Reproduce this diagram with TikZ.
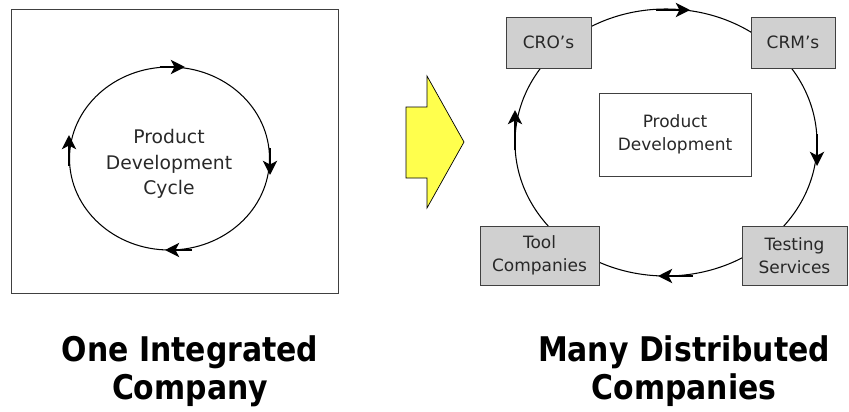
\documentclass[tikz,border=0pt]{standalone}
\usepackage{fontspec}
\setmainfont{DejaVu Sans}
\newfontfamily\titlefont[FakeStretch=0.88]{DejaVu Sans}
\usetikzlibrary{arrows.meta,positioning}
\definecolor{boxgray}{RGB}{208,208,208}
\definecolor{framegray}{RGB}{64,64,64}
\definecolor{labelgray}{RGB}{40,40,40}
\definecolor{shiftyellow}{RGB}{255,255,77}

\begin{document}
\begin{tikzpicture}[x=0.03cm, y=-0.03cm,
        flow/.style={line width=2.5pt, -{Stealth[length=12pt, width=12pt, inset=3pt]}},
        partner/.style={rectangle, draw=framegray, fill=boxgray, line width=0.8pt, align=center, inner sep=0pt,
            font=\fontsize{14.5}{19.5}\selectfont, text=labelgray},
        core/.style={rectangle, draw=framegray, fill=white, line width=0.8pt, align=center, inner sep=0pt,
            font=\fontsize{14.5}{19.5}\selectfont, text=labelgray},
        caption/.style={align=center, font=\titlefont\bfseries\fontsize{29}{32.3}\selectfont}
    ]
        \useasboundingbox (0,0) rectangle (849,411);

        % Left panel: one company
        \node[rectangle, draw=framegray, line width=0.8pt, minimum width=9.81cm, minimum height=8.52cm] (onebox) at (174.5,151) {};
        \draw[line width=0.9pt] (169.5,158.5) ellipse [x radius=100, y radius=91.5];
        \draw[flow] (160,67) -- (185,67);
        \draw[flow] (270,148) -- (270,175);
        \draw[flow] (192,250) -- (165,250);
        \draw[flow] (69,166) -- (69,135);
        \node[align=center, text=labelgray, font=\fontsize{16}{22}\selectfont] (cycle) at (169,164) {Product\\Development\\Cycle};

        % Shift arrow
        \filldraw[fill=shiftyellow, draw=black, line width=0.6pt]
            (406,107) -- (427,107) -- (427,76) -- (464,142) -- (427,208) -- (427,178) -- (406,178) -- cycle;

        % Right panel: many companies
        \draw[line width=0.9pt] (666,142.5) ellipse [x radius=151, y radius=133.5];
        \draw[flow] (656,10) -- (690,10);
        \draw[flow] (817,134) -- (817,166);
        \draw[flow] (693,276) -- (658,276);
        \draw[flow] (515,150) -- (515,110);

        \node[partner, minimum width=2.55cm, minimum height=1.53cm] (cro) at (548.5,42.5) {CRO’s};
        \node[partner, minimum width=2.52cm, minimum height=1.53cm] (crm) at (793,42.5) {CRM’s};
        \node[partner, minimum width=3.57cm, minimum height=1.77cm] (tool) at (539.5,255.5) {Tool\\Companies};
        \node[partner, minimum width=3.15cm, minimum height=1.77cm] (testing) at (794.5,255.5) {Testing\\Services};
        \node[core, minimum width=4.56cm, minimum height=2.49cm] (product) at (675,134.5) {Product\\Development};

        % Captions
        \node[caption] (onecap) at (190,371) {One Integrated\\Company};
        \node[caption] (manycap) at (684,371) {Many Distributed\\Companies};

    \end{tikzpicture}
\end{document}
